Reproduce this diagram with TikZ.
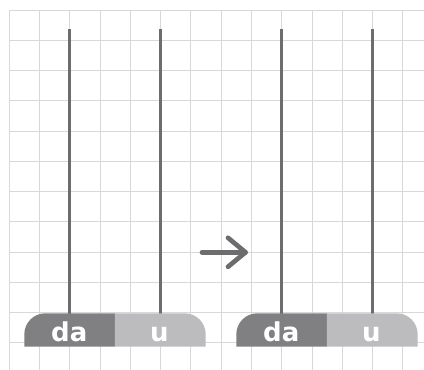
\documentclass[tikz,border=0pt]{standalone}
\usepackage{fontspec}
\setmainfont{DejaVu Sans}
\definecolor{gridc}{HTML}{D8D8D8}
\definecolor{rodc}{HTML}{6D6D70}
\definecolor{darkc}{HTML}{808083}
\definecolor{lightc}{HTML}{BCBCBE}
\tikzset{
  gridline/.style={draw=gridc, line width=1pt},
  rod/.style={draw=rodc, line width=3pt},
  beadlabel/.style={text=white, font=\bfseries\fontsize{26}{26}\selectfont, anchor=base, inner sep=0pt},
  arrowline/.style={draw=rodc, line width=4.7pt, line cap=round, line join=round}
}
\begin{document}
\begin{tikzpicture}[x=1pt,y=-1pt]
\useasboundingbox (0,0) rectangle (424,370);
% grid
\foreach \k in {0,...,13} {
  \draw[gridline] ({9.3+30.27*\k},10) -- ({9.3+30.27*\k},370);
}
\foreach \k in {0,...,11} {
  \draw[gridline] (9.3,{10+30.27*\k}) -- (424,{10+30.27*\k});
}
% two abaci
\foreach \dx/\nm in {0/L,212/R} {
  \begin{scope}[xshift=\dx]
    \coordinate (\nm top1) at (69.3,29.3);
    \coordinate (\nm bot1) at (69.3,313.5);
    \coordinate (\nm top2) at (160.3,29.3);
    \coordinate (\nm bot2) at (160.3,313.5);
    \draw[rod] (\nm top1) -- (\nm bot1);
    \draw[rod] (\nm top2) -- (\nm bot2);
    \fill[darkc] (115,346.7) -- (24.3,346.7) [rounded corners=21pt] -- (24.3,313.3) [sharp corners] -- (115,313.3) -- cycle;
    \fill[lightc] (114.8,313.3) [rounded corners=21pt] -- (205.7,313.3) [sharp corners] -- (205.7,346.7) -- (114.8,346.7) -- cycle;
    \node[beadlabel] (\nm da) at (69.3,341.5) {da};
    \node[beadlabel] (\nm u) at (159.5,341.5) {u};
  \end{scope}
}
% arrow
\coordinate (as) at (202,252.3);
\coordinate (ae) at (245.5,252.3);
\coordinate (au) at (228,237.8);
\coordinate (ad) at (228,266.8);
\draw[arrowline] (as) -- (ae);
\draw[arrowline] (au) -- (ae) -- (ad);
\end{tikzpicture}
\end{document}
